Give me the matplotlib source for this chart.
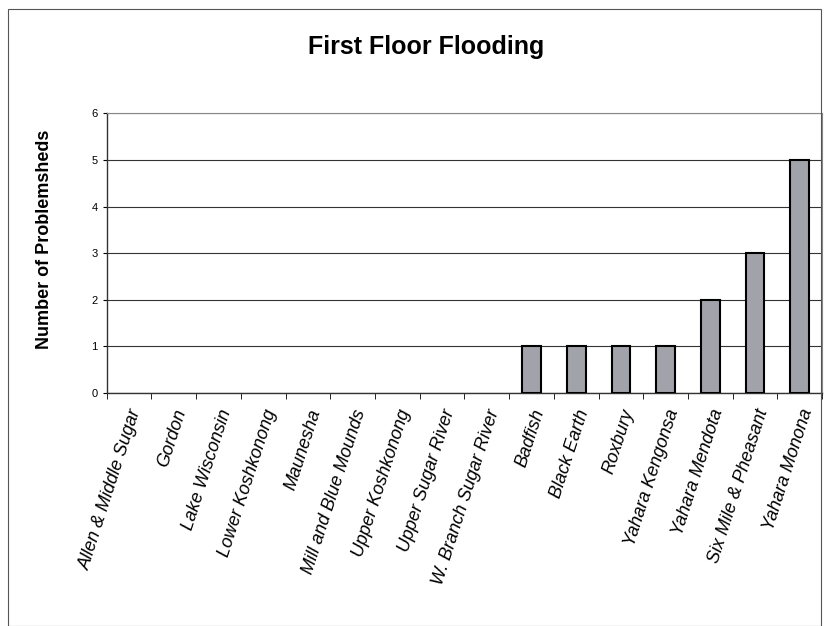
import numpy as np
import matplotlib.pyplot as plt
from matplotlib.patches import Rectangle

# watershed names and counts
watersheds = ["Allen & Middle Sugar", "Gordon", "Lake Wisconsin", "Lower Koshkonong",
              "Maunesha", "Mill and Blue Mounds", "Upper Koshkonong", "Upper Sugar River",
              "W. Branch Sugar River", "Badfish", "Black Earth", "Roxbury",
              "Yahara Kengonsa", "Yahara Mendota", "Six Mile & Pheasant", "Yahara Monona"]
counts = [0, 0, 0, 0, 0, 0, 0, 0, 0, 1, 1, 1, 1, 2, 3, 5]
yticks = [0, 1, 2, 3, 4, 5, 6]

fig = plt.figure(figsize=(8.33, 6.26), dpi=100)
plt.rcParams['font.family'] = 'Liberation Sans'

# outer chart border
fig.patches.append(Rectangle((0.01, 0.0), 0.975, 0.985, transform=fig.transFigure,
                             fill=False, edgecolor='#555555', linewidth=0.8))

ax = fig.add_axes([0.128, 0.372, 0.859, 0.447])
ind = np.arange(len(watersheds))
# no outline for empty bars, Excel shows nothing there
edges = ['black' if c > 0 else 'none' for c in counts]
ax.bar(ind, counts, 0.42, color='#a2a2aa', edgecolor=edges, linewidth=1.5, zorder=3)

ax.set_xlim(-0.5, len(watersheds) - 0.5)
ax.set_ylim(0, 6)
ax.set_yticks(yticks)
ax.set_yticklabels([str(v) for v in yticks], fontsize=8)
ax.yaxis.grid(True, color='#333333', linewidth=0.8, zorder=0)

ax.set_xticks(ind)
ax.set_xticklabels(watersheds, rotation=72, ha='right', rotation_mode='anchor',
                   fontsize=13, style='italic')
ax.set_xticks(np.arange(len(watersheds) + 1) - 0.5, minor=True)
ax.tick_params(axis='x', which='major', length=0, pad=10)
ax.tick_params(axis='x', which='minor', length=4, direction='out')
ax.tick_params(axis='y', length=3, direction='out')

for side in ['top', 'right']:
    ax.spines[side].set_color('#888888')
    ax.spines[side].set_linewidth(0.8)
for side in ['left', 'bottom']:
    ax.spines[side].set_color('#333333')
    ax.spines[side].set_linewidth(1.0)

fig.text(0.054, 0.617, 'Number of Problemsheds', rotation=90, ha='center', va='center',
         fontsize=13, fontweight='bold')
fig.text(0.511, 0.925, 'First Floor Flooding', ha='center', va='center',
         fontsize=18, fontweight='bold')

plt.savefig("out.png", dpi=100)
